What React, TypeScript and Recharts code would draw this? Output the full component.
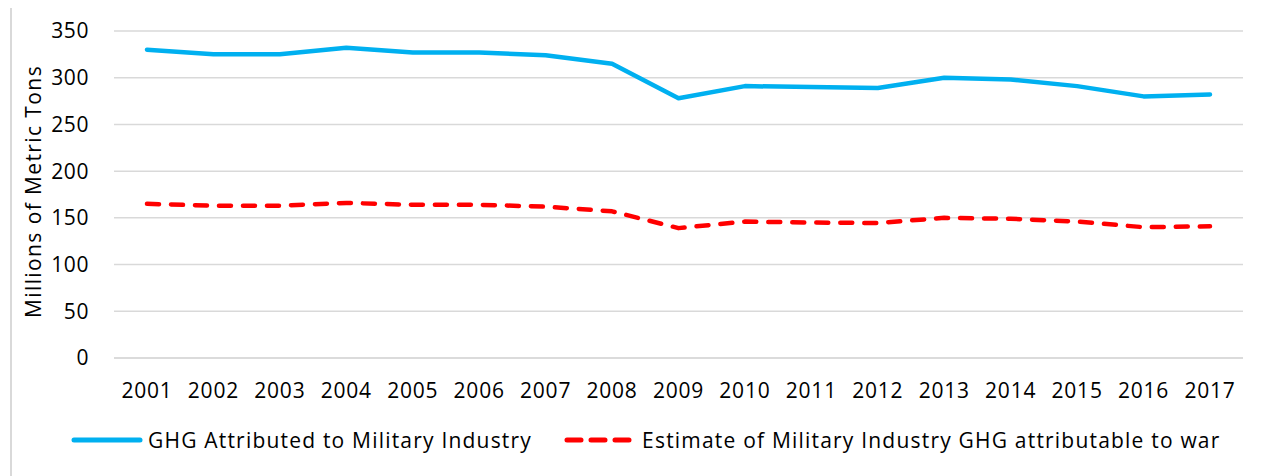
import React from 'react';
import { LineChart, Line, XAxis, YAxis, CartesianGrid, Legend } from 'recharts';

const years = ['2001','2002','2003','2004','2005','2006','2007','2008','2009','2010','2011','2012','2013','2014','2015','2016','2017'];
const ghgMilitary = [330, 325, 325, 332, 327, 327, 324, 315, 278, 291, 290, 289, 300, 298, 291, 280, 282];
const ghgWar = [165, 163, 163, 166, 164, 164, 162, 157, 139, 146, 145, 144.5, 150, 149, 146, 140, 141];
const yTicks = [0, 50, 100, 150, 200, 250, 300, 350];
const seriesNames = ['GHG Attributed to Military Industry', 'Estimate of Military Industry GHG attributable to war'];

const data = years.map((y, i) => ({ year: y, a: ghgMilitary[i], b: ghgWar[i] }));

const FONT = '"Open Sans", "Liberation Sans", sans-serif';
const BLUE = '#00B0F0';
const RED = '#FF0000';

const LegendContent = () => (
  <div style={{ display: 'flex', alignItems: 'center', fontFamily: FONT, fontSize: 21, letterSpacing: 1.2, color: '#000', paddingLeft: 63, whiteSpace: 'nowrap', height: 28 }}>
    <svg width={72} height={10} style={{ marginRight: 5 }}>
      <line x1={3} y1={5} x2={69} y2={5} stroke={BLUE} strokeWidth={5} strokeLinecap="round" />
    </svg>
    <span>{seriesNames[0]}</span>
    <svg width={68} height={10} style={{ marginLeft: 32, marginRight: 10 }}>
      <line x1={3} y1={5} x2={66} y2={5} stroke={RED} strokeWidth={5} strokeLinecap="round" strokeDasharray="14 10" />
    </svg>
    <span>{seriesNames[1]}</span>
  </div>
);

const YLabel = (props: any) => {
  const vb = props.viewBox || {};
  const x = vb.x - 21;
  const y = vb.y + vb.height / 2 - 3;
  return (
    <text x={x} y={y} transform={`rotate(-90 ${x} ${y})`} textAnchor="middle" dominantBaseline="central" fontFamily={FONT} fontSize={21} letterSpacing={1.4} fill="#000">
      Millions of Metric Tons
    </text>
  );
};

export default function App() {
  return (
    <div style={{ position: 'relative', width: 1262, height: 470, marginTop: -2, overflow: 'hidden' }}>
      <div style={{ position: 'absolute', left: 2, top: 0, width: 1300, height: 520, border: '2px solid #d9d9d9', boxSizing: 'border-box', pointerEvents: 'none' }} />
      <div style={{ position: 'absolute', left: 0, top: 2 }}>
        <LineChart width={1262} height={468} data={data} margin={{ top: 23, right: 27, left: 46, bottom: 0 }}>
          <CartesianGrid vertical={false} stroke="#d9d9d9" strokeWidth={1.5} />
          <XAxis dataKey="year" tickLine={false} axisLine={{ stroke: '#d9d9d9', strokeWidth: 1.5 }} tickSize={0} tickMargin={25.5} height={90}
            padding={{ left: 33, right: 33 }}
            tick={{ fontFamily: FONT, fontSize: 21, fill: '#000', letterSpacing: 0.8 }} interval={0} />
          <YAxis domain={[0, 350]} ticks={yTicks} tickLine={false} axisLine={false} tickSize={0} tickMargin={25} width={60}
            tick={{ fontFamily: FONT, fontSize: 21, fill: '#000', letterSpacing: 0.6 }} label={<YLabel />} />
          <Legend verticalAlign="bottom" align="left" content={<LegendContent />} wrapperStyle={{ left: 0, bottom: 22, width: 1262 }} />
          <Line type="linear" dataKey="a" name={seriesNames[0]} stroke={BLUE} strokeWidth={4.5} dot={false} strokeLinecap="round" strokeLinejoin="round" isAnimationActive={false} />
          <Line type="linear" dataKey="b" name={seriesNames[1]} stroke={RED} strokeWidth={4.5} dot={false} strokeDasharray="12 12" strokeLinecap="round" strokeLinejoin="round" isAnimationActive={false} />
        </LineChart>
      </div>
    </div>
  );
}
